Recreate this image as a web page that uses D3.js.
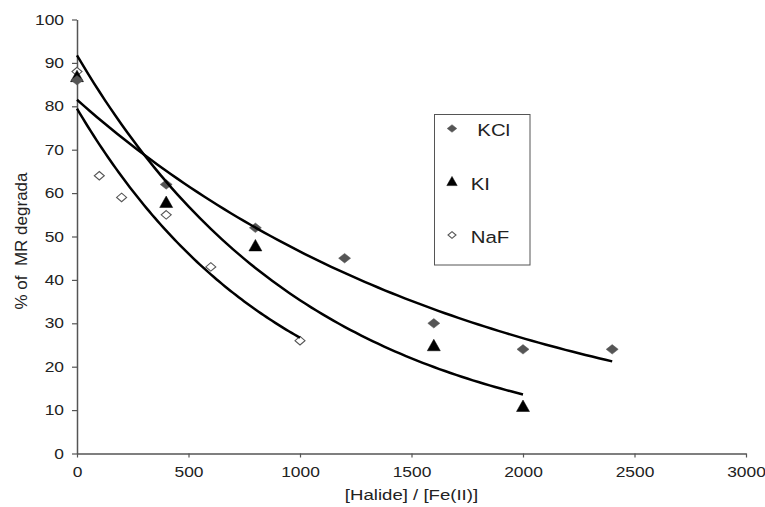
<!DOCTYPE html>
<html>
<head>
<meta charset="utf-8">
<script src="https://cdn.jsdelivr.net/npm/d3@7"></script>
<style>
  body { margin: 0; background: #fff; }
  text { font-family: "Liberation Sans", Arial, sans-serif; fill: #222; }
</style>
</head>
<body>
<div id="chart"></div>
<script>
// data
var kclX = [0, 400, 800, 1200, 1600, 2000, 2400];
var kclY = [86, 62, 52, 45, 30, 24, 24];
var kiX = [0, 400, 800, 1600, 2000];
var kiY = [87, 58, 48, 25, 11];
var nafX = [0, 100, 200, 400, 600, 1000];
var nafY = [88, 64, 59, 55, 43, 26];
var xTicks = [0, 500, 1000, 1500, 2000, 2500, 3000];
var yTicks = [0, 10, 20, 30, 40, 50, 60, 70, 80, 90, 100];

// the original text looks stretched sideways
var stretch = 1.2;

var margin = {top: 19.5, right: 19, bottom: 53.5, left: 77},
    width = 765 - margin.left - margin.right,
    height = 507 - margin.top - margin.bottom;

var svg = d3.select("#chart")
  .append("svg")
    .attr("width", 765)
    .attr("height", 507)
  .append("g")
    .attr("transform", "translate(" + margin.left + "," + margin.top + ")");

var x = d3.scaleLinear().domain([0, 3000]).range([0, width]);
var y = d3.scaleLinear().domain([0, 100]).range([height, 0]);

/** axes */
var xAxis = svg.append("g")
  .attr("transform", "translate(0," + height + ")")
  .call(d3.axisBottom(x).tickValues(xTicks).tickSize(4).tickSizeOuter(0).tickPadding(9).tickFormat(d3.format("d")));
var yAxis = svg.append("g")
  .call(d3.axisLeft(y).tickValues(yTicks).tickSize(5).tickSizeOuter(0).tickPadding(8));

[xAxis, yAxis].forEach(function(a) {
  a.select(".domain").attr("stroke", "#555").attr("stroke-width", 1.5);
  a.selectAll(".tick line").attr("stroke", "#555").attr("stroke-width", 1.2);
  a.selectAll(".tick text")
    .style("font-family", "Liberation Sans, Arial, sans-serif")
    .style("font-size", "14.5px")
    .attr("fill", "#222")
    .attr("x", function() { return (+d3.select(this).attr("x") || 0) / stretch; })
    .attr("transform", "scale(" + stretch + ",1)");
});

svg.append("text")
  .attr("transform", "translate(" + (width / 2) + "," + (height + 46) + ") scale(" + stretch + ",1)")
  .attr("text-anchor", "middle")
  .style("font-size", "15.5px")
  .text("[Halide] / [Fe(II)]");

svg.append("text")
  .attr("transform", "translate(" + (26.5 - margin.left) + "," + (241 - margin.top) + ") rotate(-90)")
  .attr("text-anchor", "middle")
  .style("font-size", "17px")
  .style("white-space", "pre")
  .text("% of  MR degrada");

/** marker shapes, wider than tall like the picture */
function diamond(w, h) {
  return {draw: function(ctx) {
    ctx.moveTo(0, -h / 2); ctx.lineTo(w / 2, 0); ctx.lineTo(0, h / 2); ctx.lineTo(-w / 2, 0); ctx.closePath();
  }};
}
function triangle(w, h) {
  return {draw: function(ctx) {
    ctx.moveTo(0, -h / 2); ctx.lineTo(w / 2, h / 2); ctx.lineTo(-w / 2, h / 2); ctx.closePath();
  }};
}

/** series */
var series = [
  {name: "KCl", xs: kclX, ys: kclY, shape: "diamond", w: 12, h: 9.5, fill: "#555", stroke: "#555"},
  {name: "KI", xs: kiX, ys: kiY, shape: "triangle", w: 13, h: 11.5, fill: "#000", stroke: "#000"},
  {name: "NaF", xs: nafX, ys: nafY, shape: "diamond", w: 10, h: 8.5, fill: "#fff", stroke: "#555"}
];

function symbolOf(s, k) {
  k = k || 1;
  var t = s.shape == "triangle" ? triangle(s.w * k, s.h * k) : diamond(s.w * k, s.h * k);
  return d3.symbol().type(t)();
}

// NaF, KI, KCl so the filled diamond ends up on top at x = 0
series.slice().reverse().forEach(function(s) {
  var pts = s.xs.map(function(v, i) { return {x: v, y: s.ys[i]}; });
  svg.append("g").selectAll("path")
    .data(pts)
    .enter()
    .append("path")
      .attr("d", symbolOf(s))
      .attr("transform", function(d) { return "translate(" + x(d.x) + "," + y(d.y) + ")"; })
      .attr("fill", s.fill)
      .attr("stroke", s.stroke)
      .attr("stroke-width", s.fill == "#fff" ? 1.1 : 0.5);
});

/** exponential trendlines, least squares on ln(y) as Excel does */
function expFit(xs, ys) {
  var ly = ys.map(Math.log);
  var mx = d3.mean(xs), my = d3.mean(ly);
  var num = d3.sum(xs, function(v, i) { return (v - mx) * (ly[i] - my); });
  var den = d3.sum(xs, function(v) { return (v - mx) * (v - mx); });
  var b = num / den;
  var a = Math.exp(my - b * mx);
  return function(v) { return a * Math.exp(b * v); };
}

var line = d3.line()
  .x(function(d) { return x(d[0]); })
  .y(function(d) { return y(d[1]); });

series.forEach(function(s) {
  var f = expFit(s.xs, s.ys);
  var last = d3.max(s.xs);
  var pts = d3.range(0, last + 1, last / 80).map(function(v) { return [v, f(v)]; });
  svg.append("path")
    .attr("d", line(pts))
    .attr("fill", "none")
    .attr("stroke", "#000")
    .attr("stroke-width", 2.5);
});

/** legend */
var lg = d3.select("svg").append("g").attr("transform", "translate(434.5,114.5)");
lg.append("rect")
  .attr("width", 95.5)
  .attr("height", 150.5)
  .attr("fill", "#fff")
  .attr("stroke", "#555")
  .attr("stroke-width", 1);

var legendRows = [
  {s: series[0], cy: 14, tx: 42.8, ty: 21.5},
  {s: series[1], cy: 66.5, tx: 36.2, ty: 75.5},
  {s: series[2], cy: 120.5, tx: 36.2, ty: 128.8}
];
legendRows.forEach(function(r) {
  lg.append("path")
    .attr("d", symbolOf(r.s, 0.8))
    .attr("transform", "translate(17.5," + r.cy + ")")
    .attr("fill", r.s.fill)
    .attr("stroke", r.s.stroke)
    .attr("stroke-width", r.s.fill == "#fff" ? 1.1 : 0.5);
  lg.append("text")
    .attr("transform", "translate(" + r.tx + "," + r.ty + ") scale(" + stretch + ",1)")
    .style("font-size", "17px")
    .text(r.s.name);
});
</script>
</body>
</html>
